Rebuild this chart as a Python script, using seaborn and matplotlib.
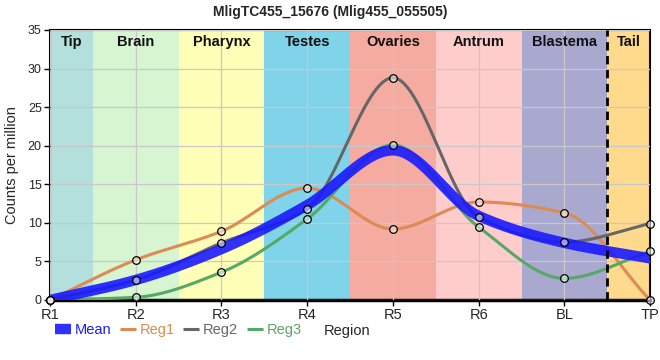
import numpy as np
import pandas as pd
import matplotlib
matplotlib.use("Agg")
import matplotlib.pyplot as plt
import seaborn as sns

# sample positions along the worm
positions = ["R1", "R2", "R3", "R4", "R5", "R6", "BL", "TP"]

# counts per million
mean_cpm = [0.0, 2.6, 6.6, 12.3, 19.4, 10.9, 7.4, 5.4]
reg1_cpm = [0.0, 5.2, 8.9, 14.5, 9.2, 12.7, 11.3, 0.0]
reg2_cpm = [0.0, 2.6, 7.4, 11.8, 28.8, 10.75, 7.5, 9.9]
reg3_cpm = [0.0, 0.35, 3.6, 10.5, 20.1, 9.45, 2.8, 6.3]

# body regions shown as coloured bands
region_names = ["Tip", "Brain", "Pharynx", "Testes", "Ovaries", "Antrum", "Blastema", "Tail"]
region_colors = ["#b3e0dc", "#d6f5d0", "#ffffb8", "#80d4ea", "#f5aba0",
                 "#ffcccc", "#a9a9cf", "#ffda8c"]

title = "MligTC455_15676 (Mlig455_055505)"

series = {"Reg1": reg1_cpm, "Reg2": reg2_cpm, "Reg3": reg3_cpm, "Mean": mean_cpm}
colors = {"Mean": "#1a1aff", "Reg1": "#dd8a55", "Reg2": "#666666", "Reg3": "#55a866"}


def monotone(x, y, xs):
    # monotone cubic (Fritsch-Carlson) used only for drawing the smooth curve
    x = np.asarray(x, float)
    y = np.asarray(y, float)
    h = np.diff(x)
    d = np.diff(y) / h
    m = np.zeros_like(y)
    m[0] = d[0]
    m[-1] = d[-1]
    for k in range(1, len(y) - 1):
        if d[k - 1] * d[k] <= 0:
            m[k] = 0
        else:
            w1 = 2 * h[k] + h[k - 1]
            w2 = h[k] + 2 * h[k - 1]
            m[k] = (w1 + w2) / (w1 / d[k - 1] + w2 / d[k])
    idx = np.clip(np.searchsorted(x, xs) - 1, 0, len(x) - 2)
    t = (xs - x[idx]) / h[idx]
    h00 = 2 * t**3 - 3 * t**2 + 1
    h10 = t**3 - 2 * t**2 + t
    h01 = -2 * t**3 + 3 * t**2
    h11 = t**3 - t**2
    return h00 * y[idx] + h10 * h[idx] * m[idx] + h01 * y[idx + 1] + h11 * h[idx] * m[idx + 1]


sns.set_theme(style="white")
plt.rcParams["font.family"] = ["Liberation Sans", "DejaVu Sans"]

fig, ax = plt.subplots(figsize=(6.6, 3.6), dpi=100)
fig.subplots_adjust(left=0.0758, right=0.985, bottom=0.1667, top=0.9167)

xpos = np.arange(len(positions))
xs = np.linspace(0, len(positions) - 1, 400)

# background bands
edges = [0] + [i + 0.5 for i in range(len(positions) - 1)] + [len(positions) - 1]
for name, col, a, b in zip(region_names, region_colors, edges[:-1], edges[1:]):
    ax.axvspan(a, b, color=col, lw=0, zorder=0)
    ax.text((a + b) / 2, 33.4, name, ha="center", va="center",
            fontsize=10.5, fontweight="bold", color="#111111", zorder=5)

ax.grid(True, color="#c8c8c8", lw=0.9, zorder=1)
ax.set_axisbelow(False)

rows = []
for name, vals in series.items():
    smooth = np.clip(monotone(xpos, vals, xs), 0, None)
    rows.append(pd.DataFrame({"x": xs, "cpm": smooth, "series": name}))
curves = pd.concat(rows, ignore_index=True)

for name in ["Reg1", "Reg2", "Reg3"]:
    sns.lineplot(data=curves[curves.series == name], x="x", y="cpm", color=colors[name],
                 lw=2.2, ax=ax, zorder=3, label=name, solid_capstyle="butt")
sns.lineplot(data=curves[curves.series == "Mean"], x="x", y="cpm", color=colors["Mean"],
             lw=7.5, alpha=0.9, ax=ax, zorder=4, label="Mean", solid_capstyle="butt")

for name in ["Reg1", "Reg2", "Reg3"]:
    ax.scatter(xpos, series[name], s=30, facecolor=(1, 1, 1, 0.55),
               edgecolor="black", lw=0.9, zorder=6, clip_on=False)

ax.axvline(6.5, color="black", lw=2, ls=(0, (3, 2)), zorder=5)

ax.set_xlim(0, len(positions) - 1)
ax.set_ylim(0, 35)
ax.set_xticks(xpos)
ax.set_xticklabels(positions, fontsize=10.5)
ax.set_yticks(range(0, 36, 5))
ax.set_yticklabels([str(v) for v in range(0, 36, 5)], fontsize=9)
ax.tick_params(axis="both", direction="out", length=4, width=1, color="black",
               bottom=True, left=True, pad=2)
for side in ["left", "right", "top"]:
    ax.spines[side].set_color("black")
    ax.spines[side].set_linewidth(1.5)
ax.spines["bottom"].set_color("black")
ax.spines["bottom"].set_linewidth(2.5)

ax.set_ylabel("Counts per million", fontsize=10.5, labelpad=6)
ax.set_xlabel("Region", fontsize=10.5)
ax.xaxis.set_label_coords(0.495, -0.115)
ax.xaxis.label.set_va("center")

handles, labels = ax.get_legend_handles_labels()
order = [labels.index(n) for n in ["Mean", "Reg1", "Reg2", "Reg3"]]
leg = ax.legend([handles[i] for i in order], [labels[i] for i in order],
                loc="center left", bbox_to_anchor=(0.083, 0.083),
                bbox_transform=fig.transFigure, ncol=4, frameon=False,
                fontsize=10.5, handlelength=1.1, handletextpad=0.25,
                columnspacing=0.6, labelcolor="linecolor",
                borderaxespad=0, borderpad=0)

fig.suptitle(title, fontsize=10, fontweight="bold", y=0.985)

fig.savefig("out.png", dpi=100)
